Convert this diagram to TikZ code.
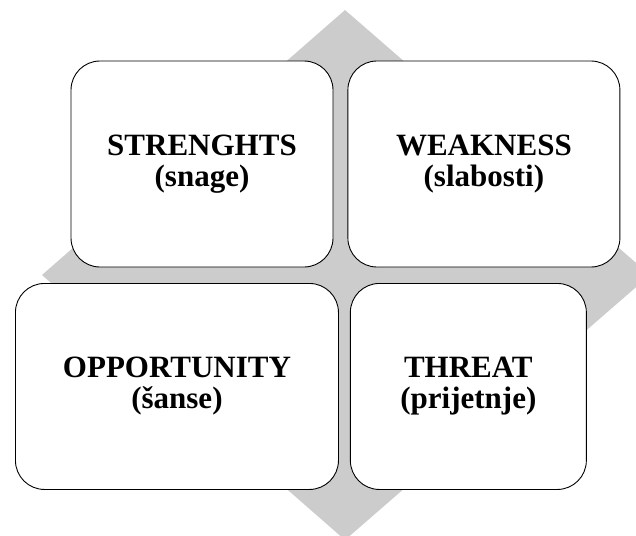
\documentclass[tikz,border=0pt]{standalone}
\usepackage{fontspec}
\setmainfont{Liberation Serif}
\usetikzlibrary{positioning}
\definecolor{diamondgray}{RGB}{204,204,204}
\tikzset{
  % rounded boxes of the matrix
  swot/.style={draw, fill=white, rounded corners=29pt,
  line width=0.9pt,
  align=center, inner sep=0pt,
  minimum height=206pt,
  font=\fontsize{31}{31}\selectfont\bfseries},
  backdrop/.style={fill=diamondgray, draw=none}}

\begin{document}
\begin{tikzpicture}[x=1pt, y=1pt,
    node distance=14pt and 14pt, % gap between the boxes
    ]
\useasboundingbox (0,0) rectangle (636,-535);
\clip (0,0) rectangle (636,-535);

% grey diamond behind the boxes
\coordinate (top) at (345,-10);
\coordinate (right) at (650,-275);
\coordinate (bottom) at (345,-540);
\coordinate (left) at (42,-275);
\fill [backdrop] (top) -- (right) -- (bottom) -- (left) -- cycle;

\node (str) [swot, minimum width=262pt] at (202,-164)
{STRENGHTS\\(snage)};

\node (weak) [swot, minimum width=272pt, right=of str]
{WEAKNESS\\(slabosti)};

\node (opp) [swot, minimum width=323pt, anchor=north west] at (15,-283)
{OPPORTUNITY\\(šanse)};

\node (thr) [swot, minimum width=236pt, right=11pt of opp]
{THREAT\\(prijetnje)};

\end{tikzpicture}
\end{document}
